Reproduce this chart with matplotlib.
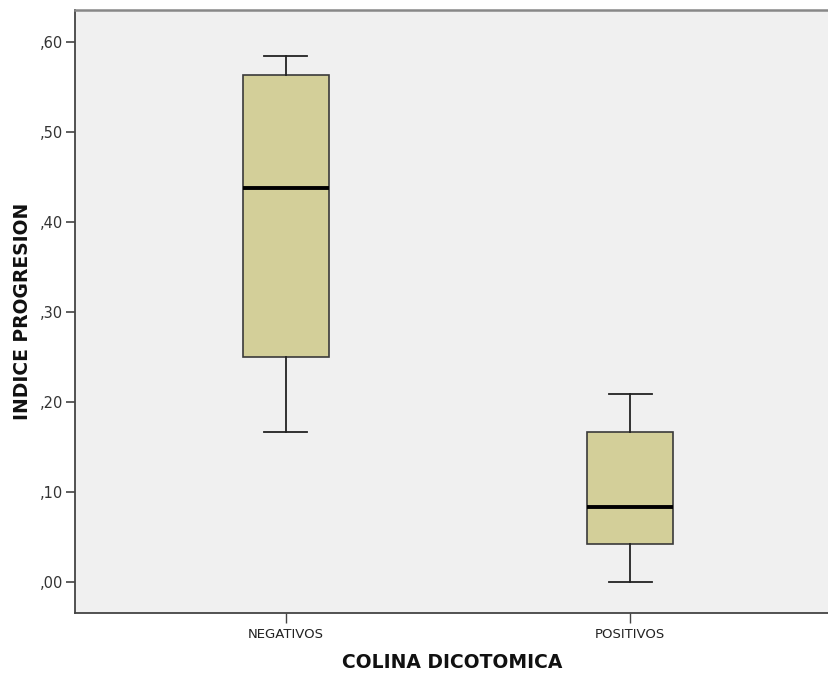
import matplotlib
matplotlib.use("Agg")
import matplotlib.pyplot as plt

# values (five-number summaries)
groups = ["NEGATIVOS", "POSITIVOS"]
whisker_low = [0.167, 0.000]
q1 = [0.250, 0.042]
median = [0.438, 0.083]
q3 = [0.563, 0.167]
whisker_high = [0.584, 0.209]
yticks = [0.0, 0.1, 0.2, 0.3, 0.4, 0.5, 0.6]
ytick_labels = [",00", ",10", ",20", ",30", ",40", ",50", ",60"]

stats = []
for i, g in enumerate(groups):
    stats.append(dict(label=g, whislo=whisker_low[i], q1=q1[i], med=median[i],
                      q3=q3[i], whishi=whisker_high[i], fliers=[]))

fig = plt.figure(figsize=(8.29, 6.75), dpi=100)
ax = fig.add_axes([0.0905, 0.0923, 0.9095, 0.893])
ax.set_facecolor("#f0f0f0")

ax.bxp(stats, positions=[1, 2], widths=0.25, patch_artist=True,
       boxprops=dict(facecolor="#d3cf99", edgecolor="#3a3a3a", linewidth=1.2),
       medianprops=dict(color="black", linewidth=2.8),
       whiskerprops=dict(color="#222222", linewidth=1.3),
       capprops=dict(color="#222222", linewidth=1.3),
       capwidths=0.125, showfliers=False)

ax.set_xlim(0.387, 2.578)
ax.set_ylim(-0.0341, 0.6356)
ax.set_yticks(yticks)
ax.set_yticklabels(ytick_labels)
ax.set_xticks([1, 2])
ax.set_xticklabels(groups)

for s in ["left", "bottom"]:
    ax.spines[s].set_color("#444444")
    ax.spines[s].set_linewidth(1.3)
ax.spines["top"].set_color("#888888")
ax.spines["top"].set_linewidth(1.8)
ax.spines["right"].set_visible(False)

ax.tick_params(axis="y", length=6.5, width=1.2, color="#444444", labelsize=10.5,
               labelcolor="#333333", pad=2)
ax.tick_params(axis="x", length=7, width=1.0, color="#444444", labelsize=9.5,
               labelcolor="#222222", pad=4)

ax.set_xlabel("COLINA DICOTOMICA", fontsize=13.5, fontweight="bold", color="#111111", labelpad=9)
ax.set_ylabel("INDICE PROGRESION", fontsize=13.5, fontweight="bold", color="#111111", labelpad=6)

fig.savefig("out.png", dpi=100)
